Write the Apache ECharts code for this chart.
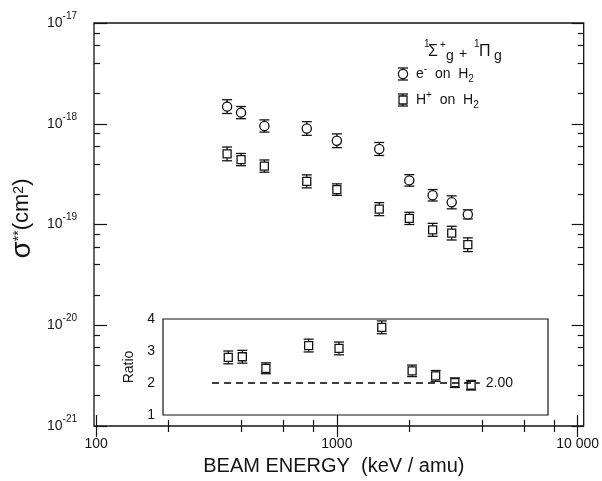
<!DOCTYPE html>
<html><head><meta charset="utf-8">
<script src="https://cdn.jsdelivr.net/npm/echarts@6/dist/echarts.min.js"></script>
<style>html,body{margin:0;padding:0;background:#fff}#c{width:602px;height:481px}</style>
</head><body><div id="c"></div>
<script>
// ---------------- data ----------------
const energies = [350, 400, 500, 750, 1000, 1500, 2000, 2500, 3000, 3500];
const electronSigma = [1.48e-18, 1.29e-18, 9.5e-19, 8.97e-19, 6.78e-19, 5.62e-19, 2.74e-19, 1.95e-19, 1.66e-19, 1.26e-19];
const electronErr = [0.17, 0.15, 0.15, 0.17, 0.17, 0.16, 0.14, 0.14, 0.16, 0.11];
const protonSigma = [5.02e-19, 4.41e-19, 3.80e-19, 2.68e-19, 2.22e-19, 1.42e-19, 1.15e-19, 8.85e-20, 8.21e-20, 6.30e-20];
const protonErr = [0.17, 0.15, 0.15, 0.16, 0.14, 0.16, 0.15, 0.16, 0.17, 0.17];
const ratio = [2.80, 2.82, 2.46, 3.17, 3.08, 3.74, 2.38, 2.22, 2.01, 1.93];
const ratioErr = [0.20, 0.20, 0.17, 0.20, 0.20, 0.20, 0.18, 0.17, 0.15, 0.15];
const refRatio = 2.00;
const refRange = [300, 3800];
const xMajorTicks = [100, 1000, 10000];
const xTickLabels = ['100', '1000', '10 000'];
const xMinorTicks = [200, 400, 600, 800, 2000, 4000, 6000, 8000];
const yMajorTicks = [1e-21, 1e-20, 1e-19, 1e-18, 1e-17];
const yTickExponents = ['-21', '-20', '-19', '-18', '-17'];
const yMinorTicks = [2e-21, 4e-21, 6e-21, 8e-21, 2e-20, 4e-20, 6e-20, 8e-20,
                     2e-19, 4e-19, 6e-19, 8e-19, 2e-18, 4e-18, 6e-18, 8e-18];
const ratioTicks = [1, 2, 3, 4];

// ---------------- layout ----------------
const MAIN = {left: 94, right: 588, top: 23, bottom: 430};
const INSET = {left: 163, right: 548, top: 319, bottom: 415};
const X_MIN = 98, X_MAX = 10600, Y_MIN = 1e-21 * 0.9999, Y_MAX = 1e-17 * 1.0001;
const lx0 = Math.log10(X_MIN), lx1 = Math.log10(X_MAX);
const px2log = p => lx0 + (p - MAIN.left) / (MAIN.right - MAIN.left) * (lx1 - lx0);
const INSET_X_MIN = Math.pow(10, px2log(INSET.left));
const INSET_X_MAX = Math.pow(10, px2log(INSET.right));
const INK = '#141414';
const FONT = '"Liberation Sans", Arial, Helvetica, sans-serif';

function nearestIdx(arr, v) {
  let best = 0, bd = Infinity;
  arr.forEach((a, i) => { const d = Math.abs(Math.log10(a) - Math.log10(v)); if (d < bd) { bd = d; best = i; } });
  return best;
}

function glyph(cx, cy, yTop, yBot, shape) {
  const ls = {stroke: INK, lineWidth: 1.3, fill: null};
  const cap = 5;
  const ch = [
    {type: 'line', shape: {x1: cx, y1: yTop, x2: cx, y2: yBot}, style: ls},
    {type: 'line', shape: {x1: cx - cap, y1: yTop, x2: cx + cap, y2: yTop}, style: ls},
    {type: 'line', shape: {x1: cx - cap, y1: yBot, x2: cx + cap, y2: yBot}, style: ls}
  ];
  if (shape === 'circle') {
    ch.push({type: 'circle', shape: {cx: cx, cy: cy, r: 4.6}, style: {stroke: INK, lineWidth: 1.3, fill: '#fff'}});
  } else {
    ch.push({type: 'rect', shape: {x: cx - 4, y: cy - 4, width: 8, height: 8}, style: {stroke: INK, lineWidth: 1.3, fill: '#fff'}});
  }
  return {type: 'group', children: ch};
}

function errRender(shape) {
  return function (params, api) {
    const x = api.value(0), y = api.value(1), lo = api.value(2), hi = api.value(3);
    const c = api.coord([x, y]), cl = api.coord([x, lo]), chh = api.coord([x, hi]);
    return glyph(c[0], c[1], chh[1], cl[1], shape);
  };
}

const logData = (vals, errs) => energies.map((e, i) => [e, vals[i], vals[i] / (1 + errs[i]), vals[i] * (1 + errs[i])]);
const linData = (vals, errs) => energies.map((e, i) => [e, vals[i], vals[i] - errs[i], vals[i] + errs[i]]);

const tickLine = {color: INK, width: 1.2};
const noSplit = {show: false};

const xAxes = [
  { gridIndex: 0, type: 'log', min: X_MIN, max: X_MAX, position: 'bottom',
    axisLine: {show: false}, splitLine: noSplit,
    axisTick: {show: true, inside: true, length: 11, customValues: xMajorTicks, lineStyle: tickLine},
    axisLabel: {show: true, customValues: xMajorTicks, margin: 11, fontSize: 14, color: INK, fontFamily: FONT,
                formatter: v => xTickLabels[nearestIdx(xMajorTicks, v)]},
    name: 'BEAM ENERGY  (keV / amu)', nameLocation: 'middle', nameGap: 30,
    nameTextStyle: {fontSize: 20, color: INK, fontFamily: FONT, padding: [0, 10, 0, 0]} },
  { gridIndex: 0, type: 'log', min: X_MIN, max: X_MAX, position: 'bottom',
    axisLine: {show: false}, splitLine: noSplit, axisLabel: {show: false},
    axisTick: {show: true, inside: true, length: 6, customValues: xMinorTicks, lineStyle: tickLine} },
  { gridIndex: 0, type: 'log', min: X_MIN, max: X_MAX, position: 'top',
    axisLine: {show: false}, splitLine: noSplit, axisLabel: {show: false},
    axisTick: {show: true, inside: true, length: 11, customValues: xMajorTicks, lineStyle: tickLine} },
  { gridIndex: 0, type: 'log', min: X_MIN, max: X_MAX, position: 'top',
    axisLine: {show: false}, splitLine: noSplit, axisLabel: {show: false},
    axisTick: {show: true, inside: true, length: 6, customValues: xMinorTicks, lineStyle: tickLine} },
  { gridIndex: 1, type: 'log', min: INSET_X_MIN, max: INSET_X_MAX, show: false }
];

const yAxes = [
  { gridIndex: 0, type: 'log', min: Y_MIN, max: Y_MAX, position: 'left',
    axisLine: {show: false}, splitLine: noSplit,
    axisTick: {show: true, inside: true, length: 13, customValues: yMajorTicks, lineStyle: tickLine},
    axisLabel: {show: true, customValues: yMajorTicks, margin: 17, color: INK, fontFamily: FONT,
      formatter: v => '{b|10}{s|' + yTickExponents[nearestIdx(yMajorTicks, v)] + '}',
      rich: {b: {fontSize: 14, lineHeight: 24, color: INK, fontFamily: FONT},
             s: {fontSize: 10, lineHeight: 10, verticalAlign: 'top', color: INK, fontFamily: FONT}}},
    name: '{s|σ}{p|**}{t|(cm}{p|2}{t|)}', nameLocation: 'middle', nameRotate: 90, nameGap: 52,
    nameTextStyle: {color: INK, fontFamily: FONT, padding: [0, 0, 0, 12], rich: {
      s: {fontSize: 28, lineHeight: 20, color: INK, fontFamily: FONT},
      p: {fontSize: 14, lineHeight: 10, verticalAlign: 'top', color: INK, fontFamily: FONT},
      t: {fontSize: 22, lineHeight: 20, color: INK, fontFamily: FONT}}} },
  { gridIndex: 0, type: 'log', min: Y_MIN, max: Y_MAX, position: 'left',
    axisLine: {show: false}, splitLine: noSplit, axisLabel: {show: false},
    axisTick: {show: true, inside: true, length: 6, customValues: yMinorTicks, lineStyle: tickLine} },
  { gridIndex: 0, type: 'log', min: Y_MIN, max: Y_MAX, position: 'right',
    axisLine: {show: false}, splitLine: noSplit, axisLabel: {show: false},
    axisTick: {show: true, inside: true, length: 12, customValues: yMajorTicks, lineStyle: tickLine} },
  { gridIndex: 0, type: 'log', min: Y_MIN, max: Y_MAX, position: 'right',
    axisLine: {show: false}, splitLine: noSplit, axisLabel: {show: false},
    axisTick: {show: true, inside: true, length: 6, customValues: yMinorTicks, lineStyle: tickLine} },
  { gridIndex: 1, type: 'value', min: ratioTicks[0], max: ratioTicks[ratioTicks.length - 1], interval: 1,
    axisLine: {show: false}, axisTick: {show: false}, splitLine: noSplit,
    axisLabel: {show: true, margin: 8, fontSize: 14, color: INK, fontFamily: FONT},
    name: 'Ratio', nameLocation: 'middle', nameRotate: 90, nameGap: 27,
    nameTextStyle: {fontSize: 14, color: INK, fontFamily: FONT} }
];

const legendRich = {
  n: {fontSize: 14, lineHeight: 20, color: INK, fontFamily: FONT},
  sp: {fontSize: 10, lineHeight: 10, verticalAlign: 'top', color: INK, fontFamily: FONT},
  sb: {fontSize: 10, lineHeight: 10, verticalAlign: 'bottom', color: INK, fontFamily: FONT}
};
function txt(x, y, s, size) {
  return {type: 'text', x: x, y: y, style: {text: s, fontSize: size, fontFamily: FONT, fill: INK, align: 'left', verticalAlign: 'middle'}};
}

const option = {
  animation: false,
  backgroundColor: '#fff',
  grid: [
    {left: MAIN.left, right: 602 - MAIN.right, top: MAIN.top, bottom: 481 - MAIN.bottom,
     show: true, borderColor: INK, borderWidth: 1.3, backgroundColor: 'transparent'},
    {left: INSET.left, right: 602 - INSET.right, top: INSET.top, bottom: 481 - INSET.bottom,
     show: true, borderColor: INK, borderWidth: 1.2, backgroundColor: 'transparent'}
  ],
  xAxis: xAxes,
  yAxis: yAxes,
  series: [
    {name: 'e- on H2', type: 'custom', xAxisIndex: 0, yAxisIndex: 0, renderItem: errRender('circle'),
     data: logData(electronSigma, electronErr), encode: {x: 0, y: [1, 2, 3]}, silent: true},
    {name: 'H+ on H2', type: 'custom', xAxisIndex: 0, yAxisIndex: 0, renderItem: errRender('square'),
     data: logData(protonSigma, protonErr), encode: {x: 0, y: [1, 2, 3]}, silent: true},
    {name: 'ref', type: 'line', xAxisIndex: 4, yAxisIndex: 4, symbol: 'none', silent: true,
     data: [[refRange[0], refRatio], [refRange[1], refRatio]],
     lineStyle: {color: '#000', width: 1.5, type: [7, 5]},
     endLabel: {show: true, formatter: refRatio.toFixed(2), color: INK, fontSize: 14, fontFamily: FONT, distance: 6}},
    {name: 'ratio', type: 'custom', xAxisIndex: 4, yAxisIndex: 4, renderItem: errRender('square'),
     data: linData(ratio, ratioErr), encode: {x: 0, y: [1, 2, 3]}, silent: true}
  ],
  graphic: [
    txt(424, 44, '1', 10), txt(428, 52, 'Σ', 16), txt(440, 45, '+', 10), txt(446, 56, 'g', 14),
    txt(459, 54, '+', 14),
    txt(474, 44, '1', 10), txt(479, 52, 'Π', 16), txt(494, 56, 'g', 14),
    glyph(403, 74, 68, 80, 'circle'),
    {type: 'text', x: 416, y: 74, style: {text: '{n|e}{sp|-}{n|  on  H}{sb|2}', rich: legendRich, align: 'left', verticalAlign: 'middle', fill: INK, fontFamily: FONT}},
    glyph(403, 100, 94, 106, 'square'),
    {type: 'text', x: 416, y: 100, style: {text: '{n|H}{sp|+}{n|  on  H}{sb|2}', rich: legendRich, align: 'left', verticalAlign: 'middle', fill: INK, fontFamily: FONT}}
  ]
};

const chart = echarts.init(document.getElementById('c'), null, {renderer: 'canvas'});
chart.setOption(option);
</script>
</body></html>
